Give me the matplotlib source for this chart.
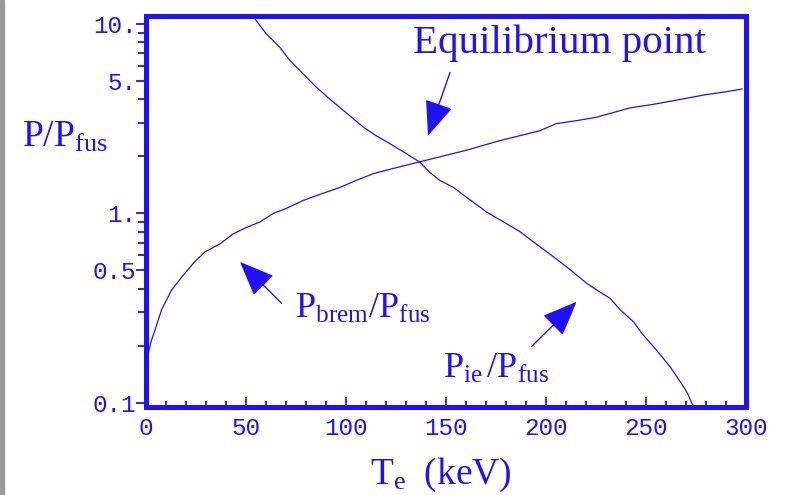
import matplotlib
matplotlib.use("Agg")
import matplotlib.pyplot as plt
from matplotlib.patches import Rectangle
from matplotlib.ticker import FixedLocator, NullFormatter

# ── Data ────────────────────────────────────────────────────
brem_T = [1, 2.5, 4.5, 7.8, 12.8, 18.7, 24, 29.5, 37, 43.7, 50, 57, 63.7, 70,
          78.7, 88, 97, 105, 113.7, 125, 136, 148, 160, 177, 187, 197, 205,
          215, 225, 242, 253, 263.7, 280, 290, 298]
brem_P = [0.18, 0.21, 0.242, 0.31, 0.394, 0.472, 0.55, 0.626, 0.69, 0.78,
          0.84, 0.90, 1.0, 1.06, 1.17, 1.27, 1.37, 1.49, 1.62, 1.74, 1.86,
          2.0, 2.15, 2.42, 2.57, 2.73, 2.97, 3.08, 3.21, 3.6, 3.75, 3.93,
          4.23, 4.38, 4.53]

ie_T = [54.5, 60, 67, 72, 78.7, 85, 92, 100, 108.7, 115, 122, 130, 137, 142,
        147, 153.7, 160, 167, 170, 178, 187, 195, 203.7, 212, 220, 226, 232,
        237, 243.7, 248, 253.7, 258, 262, 265.5, 268.7, 271, 272.8, 274]
ie_P = [10.6, 8.9, 7.5, 6.4, 5.43, 4.65, 4.0, 3.4, 2.85, 2.57, 2.33, 2.07,
        1.86, 1.64, 1.49, 1.37, 1.22, 1.08, 1.02, 0.91, 0.80, 0.69, 0.59,
        0.505, 0.43, 0.39, 0.356, 0.31, 0.268, 0.232, 0.198, 0.175, 0.155,
        0.137, 0.122, 0.111, 0.10, 0.095]

y_major = [0.1, 0.5, 1, 5, 10]
y_major_labels = ["0.1", "0.5", "1.", "5.", "10."]
y_minor = [0.2, 0.3, 0.4, 0.6, 0.7, 0.8, 0.9, 2, 3, 4, 6, 7, 8, 9]
x_major = [0, 50, 100, 150, 200, 250, 300]
x_minor = [v for v in range(0, 301, 10) if v % 50]

BLUE = "#2010ff"

plt.rcParams["mathtext.fontset"] = "custom"
plt.rcParams["mathtext.rm"] = "Liberation Serif"
plt.rcParams["mathtext.it"] = "Liberation Serif:italic"

fig = plt.figure(figsize=(7.87, 4.95), dpi=100)
ax = fig.add_axes([146 / 787, 1 - 407 / 495, 600 / 787, 391 / 495])

# gray strip on the left edge
fig.patches.append(Rectangle((0, 0), 4 / 787, 1, transform=fig.transFigure,
                             color="#999999", zorder=0))

ax.plot(brem_T, brem_P, color=BLUE, lw=0.9)
ax.plot(ie_T, ie_P, color=BLUE, lw=0.9)

ax.set_yscale("log")
ax.set_xlim(0, 300)
ax.set_ylim(0.095, 11)

for s in ax.spines.values():
    s.set_color(BLUE)
    s.set_linewidth(3.6)

ax.yaxis.set_major_locator(FixedLocator(y_major))
ax.set_yticklabels(y_major_labels)
ax.yaxis.set_minor_locator(FixedLocator(y_minor))
ax.yaxis.set_minor_formatter(NullFormatter())
ax.xaxis.set_major_locator(FixedLocator(x_major))
ax.xaxis.set_minor_locator(FixedLocator(x_minor))

ax.tick_params(axis="y", which="major", direction="out", length=7, width=1.3,
               color=BLUE, labelcolor=BLUE, pad=0)
ax.tick_params(axis="y", which="minor", direction="out", length=6, width=1.3,
               color=BLUE)
ax.tick_params(axis="x", which="major", direction="in", length=7, width=1.3,
               color=BLUE, labelcolor=BLUE, pad=7)
ax.tick_params(axis="x", which="minor", direction="in", length=4, width=1.3,
               color=BLUE)
for lbl in ax.get_xticklabels() + ax.get_yticklabels():
    lbl.set_family("Liberation Mono")
    lbl.set_fontsize(17.5)

# labels
big = dict(color=BLUE, fontsize=27, family="Liberation Serif")
fig.text(22 / 787, 1 - 147 / 495, r"$\mathrm{P/P_{fus}}$", ha="left",
         va="baseline", **big)
fig.text(441 / 787, 1 - 484 / 495, r"$\mathrm{T_e\ \ (keV)}$", ha="center",
         va="baseline", **big)

ax.text(133.5, 7.04, "Equilibrium point", ha="left", va="baseline",
        color=BLUE, fontsize=29.5, family="Liberation Serif")
ax.text(74.5, 0.28, r"$\mathrm{P_{brem}/P_{fus}}$", ha="left", va="baseline",
        color=BLUE, fontsize=26, family="Liberation Serif")
ax.text(148.7, 0.135, r"$\mathrm{P_{ie}\,/P_{fus}}$", ha="left", va="baseline",
        color=BLUE, fontsize=26, family="Liberation Serif")

arrow = dict(arrowstyle="-|>,head_length=2.2,head_width=0.9", color=BLUE,
             lw=1.0, shrinkA=0, shrinkB=0)
ax.annotate("", xy=(141, 2.57), xytext=(152, 5.54), arrowprops=arrow)
ax.annotate("", xy=(47, 0.554), xytext=(67.8, 0.335), arrowprops=arrow)
ax.annotate("", xy=(215.3, 0.341), xytext=(192.8, 0.198), arrowprops=arrow)

fig.savefig("out.png", dpi=100)
